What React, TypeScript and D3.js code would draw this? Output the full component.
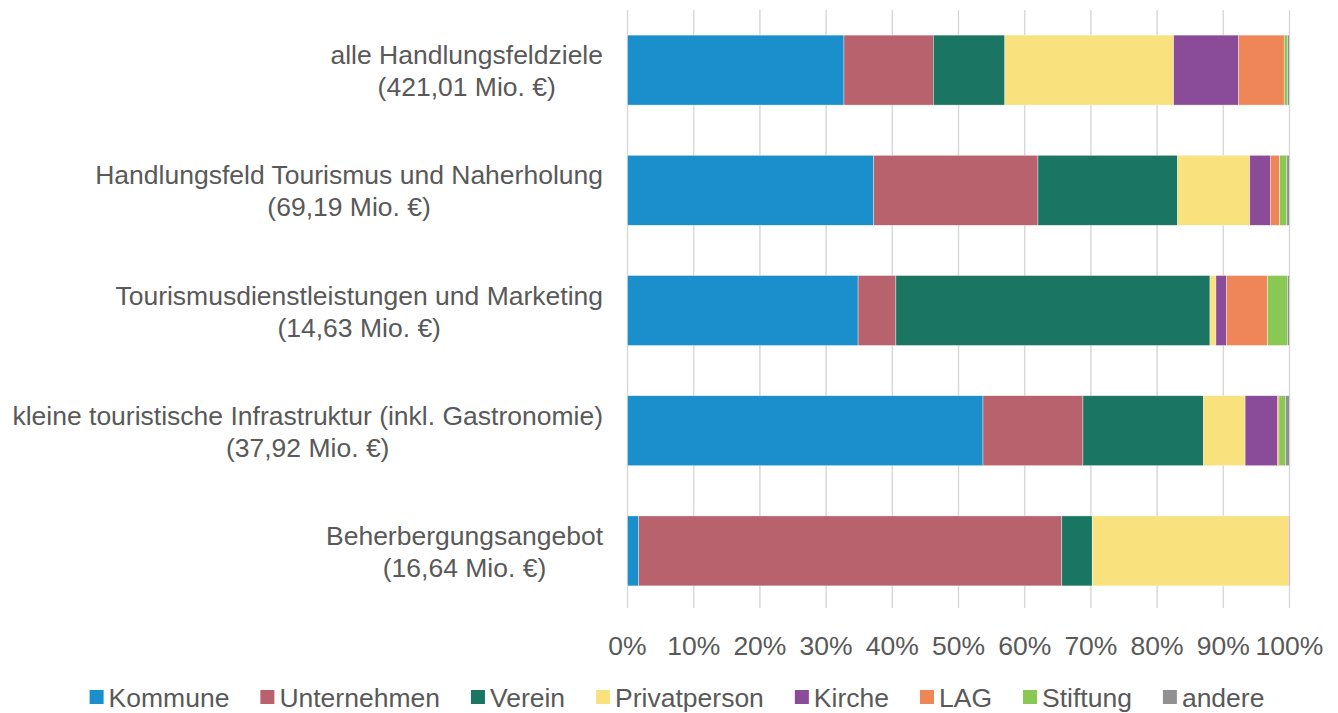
import React, { useEffect, useRef } from 'react';
import * as d3 from 'd3';

// categories, top to bottom
const categories = ['alle', 'tourismus', 'dienstleistungen', 'infrastruktur', 'beherbergung'];
const labelLines = [
  ['alle Handlungsfeldziele', '(421,01 Mio. €)'],
  ['Handlungsfeld Tourismus und Naherholung', '(69,19 Mio. €)'],
  ['Tourismusdienstleistungen und Marketing', '(14,63 Mio. €)'],
  ['kleine touristische Infrastruktur (inkl. Gastronomie)', '(37,92 Mio. €)'],
  ['Beherbergungsangebot', '(16,64 Mio. €)'],
];

const seriesNames = ['Kommune', 'Unternehmen', 'Verein', 'Privatperson', 'Kirche', 'LAG', 'Stiftung', 'andere'];
const seriesColors = ['#1b8fcb', '#b7626d', '#1a7663', '#f9e17d', '#8a4c98', '#ef8657', '#88c853', '#919191'];

// shares in %, one value per category
const kommune = [32.7, 37.2, 34.8, 53.7, 1.7];
const unternehmen = [13.5, 24.8, 5.7, 15.1, 63.9];
const verein = [10.8, 21.1, 47.4, 18.2, 4.6];
const privatperson = [25.5, 10.9, 0.9, 6.3, 29.7];
const kirche = [9.8, 3.1, 1.6, 4.9, 0.1];
const lag = [6.9, 1.4, 6.2, 0.2, 0];
const stiftung = [0.5, 1.1, 3.0, 1.0, 0];
const andere = [0.3, 0.4, 0.3, 0.6, 0];

const seriesValues = [kommune, unternehmen, verein, privatperson, kirche, lag, stiftung, andere];
const xTicks = [0, 0.1, 0.2, 0.3, 0.4, 0.5, 0.6, 0.7, 0.8, 0.9, 1];

const FONT = '"Liberation Sans", Arial, sans-serif';
const TEXT = '#595959';

function App() {
  const ref = useRef<SVGSVGElement>(null);

  useEffect(() => {
    const svg = d3.select(ref.current);
    svg.selectAll('*').remove();

    const width = 1338;
    const height = 713;

    const rows = categories.map((c, i) => {
      const r: any = { key: c };
      seriesNames.forEach((s, j) => (r[s] = seriesValues[j][i]));
      return r;
    });

    const stack = d3.stack().keys(seriesNames).offset(d3.stackOffsetExpand);
    const stacked = stack(rows);

    const x = d3.scaleLinear().domain([0, 1]).range([627.5, 1289.5]);
    const y = d3.scaleBand().domain(categories).range([10, 611]).paddingInner(0.418).paddingOuter(0.209);
    const color = d3.scaleOrdinal<string>().domain(seriesNames).range(seriesColors);

    // gridlines
    svg.append('g')
      .selectAll('line')
      .data(xTicks)
      .join('line')
      .attr('x1', (d) => x(d))
      .attr('x2', (d) => x(d))
      .attr('y1', 10)
      .attr('y2', 608)
      .attr('stroke', '#d9d9d9')
      .attr('stroke-width', 1.5);

    // bars
    svg.append('g')
      .selectAll('g')
      .data(stacked)
      .join('g')
      .attr('fill', (d) => color(d.key))
      .selectAll('rect')
      .data((d) => d)
      .join('rect')
      .attr('x', (d) => x(d[0]))
      .attr('y', (d: any) => y(d.data.key)!)
      .attr('width', (d) => Math.max(0, x(d[1]) - x(d[0])))
      .attr('height', y.bandwidth())
      .attr('stroke', '#ffffff')
      .attr('stroke-width', (d) => (d[1] - d[0] > 0 ? 0.6 : 0))
      .attr('stroke-opacity', 0.6);

    // category labels, two centred lines, block right aligned
    const labels = svg.append('g')
      .attr('font-family', FONT)
      .attr('font-size', 26.5)
      .attr('fill', TEXT);

    categories.forEach((c, i) => {
      const cy = y(c)! + y.bandwidth() / 2;
      const g = labels.append('g');
      const texts = labelLines[i].map((t, k) =>
        g.append('text')
          .attr('y', cy - 6 + k * 32)
          .attr('text-anchor', 'middle')
          .text(t)
      );
      const maxW = d3.max(texts, (t) => (t.node() as SVGTextElement).getComputedTextLength()) || 0;
      texts.forEach((t) => t.attr('x', 603 - maxW / 2));
    });

    // x axis tick labels
    svg.append('g')
      .attr('font-family', FONT)
      .attr('font-size', 26.5)
      .attr('fill', TEXT)
      .attr('text-anchor', 'middle')
      .selectAll('text')
      .data(xTicks)
      .join('text')
      .attr('x', (d) => x(d))
      .attr('y', 655)
      .text((d) => d3.format('.0%')(d));

    // legend
    const legend = svg.append('g')
      .attr('font-family', FONT)
      .attr('font-size', 26.5)
      .attr('fill', TEXT);

    const items = seriesNames.map((s) => {
      const g = legend.append('g');
      g.append('rect').attr('width', 14).attr('height', 14).attr('y', 690).attr('fill', color(s));
      const t = g.append('text').attr('x', 19).attr('y', 707).text(s);
      return { g, w: 19 + (t.node() as SVGTextElement).getComputedTextLength() };
    });
    const gap = 31;
    const total = d3.sum(items, (d) => d.w) + gap * (items.length - 1);
    let cx = 677 - total / 2;
    items.forEach((it) => {
      it.g.attr('transform', `translate(${cx},0)`);
      cx += it.w + gap;
    });

    svg.attr('width', width).attr('height', height);
  }, []);

  return (
    <svg
      ref={ref}
      width={1338}
      height={713}
      style={{ position: 'absolute', left: 0, top: 0, background: '#ffffff' }}
    />
  );
}

export default App;
